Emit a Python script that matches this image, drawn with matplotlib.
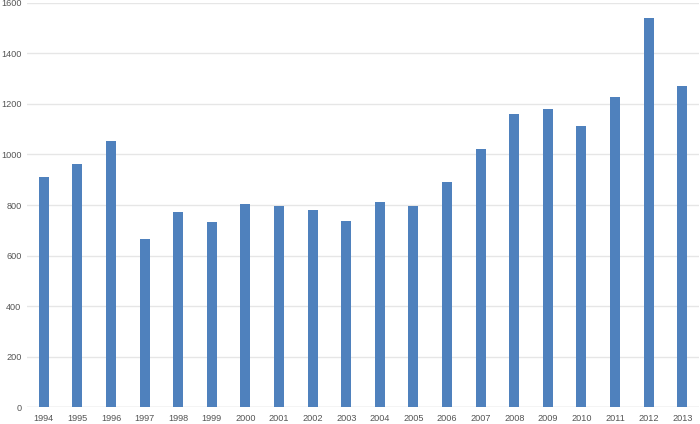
import matplotlib
matplotlib.use('Agg')
import matplotlib.pyplot as plt
import numpy as np

# years and values
years = [str(y) for y in range(1994, 2014)]
values = [912, 962, 1052, 667, 772, 731, 804, 796, 780, 737,
          812, 796, 892, 1020, 1160, 1180, 1113, 1228, 1542, 1271]
y_ticks = [0, 200, 400, 600, 800, 1000, 1200, 1400, 1600]

plt.rcParams['font.family'] = ['Liberation Sans', 'DejaVu Sans']

fig = plt.figure(figsize=(7, 4.24), dpi=100)
ax = fig.add_axes([0.0386, 0.040, 0.9600, 0.953])

x = np.arange(len(years))
ax.bar(x, values, width=0.3, color='#4F81BD', zorder=3)

ax.set_xlim(-0.5, len(years) - 0.5)
ax.set_ylim(0, 1600)
ax.set_yticks(y_ticks)
ax.set_xticks(x)
ax.set_xticklabels(years)

ax.grid(axis='y', color='#E6E6E6', linewidth=1, zorder=0)
for s in ax.spines.values():
    s.set_visible(False)
ax.axhline(0, color='#E0E0E0', linewidth=1, zorder=2)

ax.tick_params(axis='both', length=0, labelsize=6.6, labelcolor='#555555')
ax.tick_params(axis='y', pad=4)
ax.tick_params(axis='x', pad=5)

fig.savefig('out.png', dpi=100)
